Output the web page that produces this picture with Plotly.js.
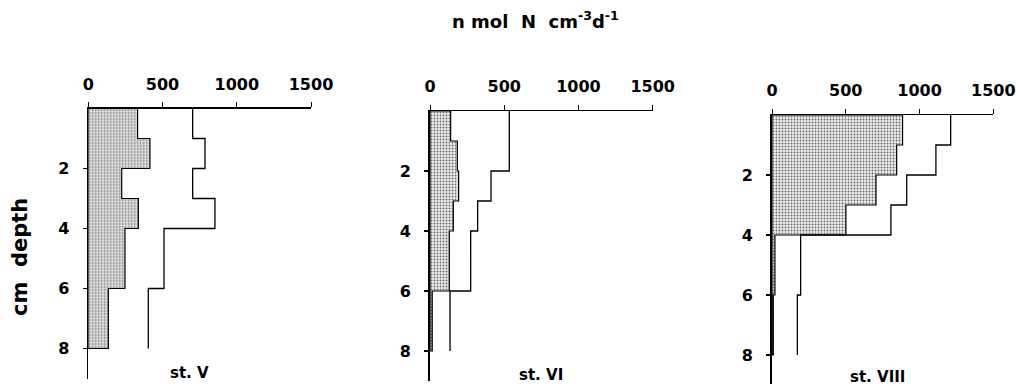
<!DOCTYPE html>
<html>
<head>
<meta charset="utf-8">
<script src="https://cdn.plot.ly/plotly-3.0.1.min.js"></script>
<style>html,body{margin:0;padding:0;background:#fff;}#chart{width:1022px;height:386px;}</style>
</head>
<body>
<div id="chart"></div>
<script>
// Depth interval boundaries (cm)
const depthEdges = [0, 1, 2, 3, 4, 6, 8];
const stations = ["st. V", "st. VI", "st. VIII"];
// shaded (stippled) profile values per depth interval, nmol N cm-3 d-1
const shadedV = [332, 415, 225, 337, 247, 135];
const shadedVI = [139, 184, 193, 157, 130, 15];
const shadedVIII = [885, 845, 705, 501, 20, 9];
// outline profile values per depth interval
const outlineV = [703, 786, 703, 853, 510, 404];
const outlineVI = [534, 534, 411, 321, 274, 135];
const outlineVIII = [1211, 1111, 913, 806, 194, 172];
const xTicks = [0, 500, 1000, 1500];
const yTicks = [2, 4, 6, 8];

function stepPts(vals) {
  const x = [], y = [];
  vals.forEach((v, i) => { x.push(v, v); y.push(depthEdges[i], depthEdges[i + 1]); });
  return {x, y};
}

const shadedAll = [shadedV, shadedVI, shadedVIII];
const outlineAll = [outlineV, outlineVI, outlineVIII];
const traces = [];
shadedAll.forEach((vals, k) => {
  const s = stepPts(vals);
  const last = depthEdges[depthEdges.length - 1];
  const ax = k === 0 ? '' : String(k + 1);
  traces.push({
    type: 'scatter', mode: 'lines',
    x: [0].concat(s.x, [0, 0]), y: [0].concat(s.y, [last, 0]),
    xaxis: 'x' + ax, yaxis: 'y' + ax,
    fill: 'toself', fillcolor: '#dcdcdc',
    fillpattern: {shape: '.', fgcolor: '#6a6a6a', bgcolor: '#ececec', size: 3, solidity: 0.3},
    line: {color: '#000', width: 1.2}, hoverinfo: 'skip', showlegend: false
  });
  const o = stepPts(outlineAll[k]);
  traces.push({
    type: 'scatter', mode: 'lines', x: o.x, y: o.y,
    xaxis: 'x' + ax, yaxis: 'y' + ax,
    line: {color: '#000', width: 1.3}, hoverinfo: 'skip', showlegend: false
  });
});

const W = 1022, H = 386;
const panels = [
  {x0: 88.3, x1: 311, top: 108.5, yMax: 9.0},
  {x0: 430, x1: 652.7, top: 111, yMax: 9.0},
  {x0: 772, x1: 993.3, top: 115, yMax: 8.95}
];
const pxPerCm = 30;
const FAM = 'DejaVu Sans, Liberation Sans, Arial, sans-serif';
const tickFont = {family: FAM, size: 16, color: '#000', weight: 'bold'};
const layout = {
  width: W, height: H,
  margin: {l: 0, r: 0, t: 0, b: 0},
  paper_bgcolor: '#fff', plot_bgcolor: 'rgba(0,0,0,0)',
  showlegend: false,
  annotations: []
};
panels.forEach((p, k) => {
  const ax = k === 0 ? '' : String(k + 1);
  const bottom = p.top + p.yMax * pxPerCm;
  layout['xaxis' + ax] = {
    domain: [p.x0 / W, p.x1 / W], range: [0, 1500], side: 'top',
    anchor: 'y' + ax, showline: true, linecolor: '#000', linewidth: 1.3,
    showgrid: false, zeroline: false, tickmode: 'array', tickvals: xTicks,
    ticktext: xTicks.map(String), ticks: 'outside', ticklen: 5, tickcolor: '#000',
    tickwidth: 1, tickfont: tickFont, ticklabelstandoff: 6
  };
  layout['yaxis' + ax] = {
    domain: [1 - bottom / H, 1 - p.top / H], range: [p.yMax, 0],
    anchor: 'x' + ax, showline: true, linecolor: '#000', linewidth: 1.8,
    showgrid: false, zeroline: false, tickmode: 'array', tickvals: yTicks,
    ticktext: yTicks.map(String), ticks: 'outside', ticklen: 4, tickcolor: '#000',
    tickwidth: 1.3, tickfont: tickFont, ticklabelstandoff: 10
  };
});
const labelPos = [[189, 373], [541, 375], [877, 377]];
stations.forEach((s, k) => {
  layout.annotations.push({
    text: s, xref: 'paper', yref: 'paper', x: labelPos[k][0] / W, y: 1 - labelPos[k][1] / H,
    showarrow: false, xanchor: 'center', yanchor: 'middle',
    font: {family: FAM, size: 15, color: '#000', weight: 'bold'}
  });
});
layout.annotations.push({
  text: 'n mol  N  cm<sup>-3</sup>d<sup>-1</sup>', xref: 'paper', yref: 'paper',
  x: 535 / W, y: 1 - 20 / H, showarrow: false, xanchor: 'center', yanchor: 'middle',
  font: {family: FAM, size: 18, color: '#000', weight: 'bold'}
});
layout.annotations.push({
  text: 'cm  depth', xref: 'paper', yref: 'paper', x: 20 / W, y: 1 - 257 / H,
  showarrow: false, textangle: -90, xanchor: 'center', yanchor: 'middle',
  font: {family: FAM, size: 21, color: '#000', weight: 'bold'}
});
Plotly.newPlot('chart', traces, layout, {displayModeBar: false, staticPlot: true});
</script>
</body>
</html>
